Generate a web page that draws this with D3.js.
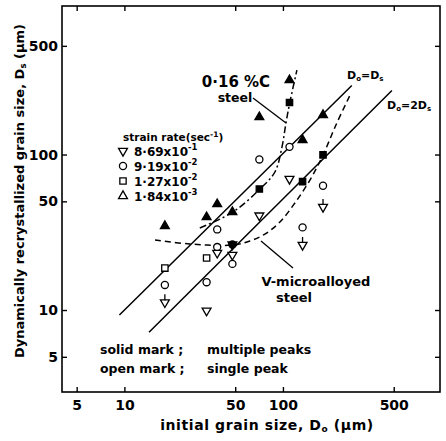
<!DOCTYPE html>
<html><head><meta charset="utf-8">
<script src="https://cdn.jsdelivr.net/npm/d3@7"></script>
<style>
body{margin:0;background:#fff}
text{font-family:"DejaVu Sans",sans-serif;font-weight:bold;fill:#000}
</style>
</head><body>
<svg id="c" width="446" height="441"></svg>
<script>
// ---------- data ----------
const xTicks = [5, 10, 50, 100, 500];
const yTicks = [5, 10, 50, 100, 500];
const rateLabels = [["8·69x10", "-1"], ["9·19x10", "-2"], ["1·27x10", "-2"], ["1·84x10", "-3"]];
// [D0, Ds, solid (1) / open (0), stem mark]
const rate869 = [[18, 11.2, 0, 1], [33, 9.9, 0, 0], [38.5, 23.3, 0, 0], [48, 22.6, 0, 0], [48, 26.4, 1, 0],
                 [71, 40.5, 0, 0], [110, 69.6, 0, 0], [133, 26.2, 0, 1], [179, 46, 0, 1]];
const rate919 = [[18, 14.5, 0], [33, 15.1, 0], [38.5, 33.0, 0], [38.5, 25.4, 0], [48, 19.8, 0], [48, 26.4, 1],
                 [71, 93, 0], [110, 112, 0], [133, 34, 0], [179, 63, 0]];
const rate127 = [[18, 18.6, 0], [33, 21.6, 0], [71, 60, 1], [110, 216, 1], [133, 67, 1], [179, 99.5, 1]];
const rate184 = [[18, 34.7, 1], [33, 39.6, 1], [38.5, 48, 1], [48, 42.7, 1], [71, 174, 1], [110, 301, 1],
                 [133, 124, 1], [179, 179.5, 1]];
const lineEq = [[9.3, 9.3], [272, 278]];          // D0 = Ds
const lineHalf = [[14.3, 7.2], [487, 258]];       // D0 = 2Ds
const curveC016 = [[29.9, 33.7], [48.4, 42.7], [71.6, 60], [89, 77.2], [98.6, 111.7], [104.5, 159.5],
                   [110.7, 217.6], [122.5, 349]];
const curveV = [[15.6, 28.2], [25.9, 26.6], [48, 26.2], [61.9, 27.8], [77, 30.8], [95.7, 36.8],
                [119, 48.8], [148, 68.5], [179, 99.3], [216, 155], [265, 241]];

// ---------- layout ----------
const svg = d3.select("#c");
const x = d3.scaleLog().domain([4.04, 979]).range([62, 440]);
const y = d3.scaleLog().domain([2.97, 902]).range([392, 6]);

svg.append("rect").attr("x", 62).attr("y", 6).attr("width", 378).attr("height", 386)
  .attr("fill", "none").attr("stroke", "#000").attr("stroke-width", 1.6);

function styleAxis(g, showLabels) {
  g.select(".domain").remove();
  g.selectAll(".tick line").attr("stroke", "#000").attr("stroke-width", 1.4);
  g.selectAll(".tick text").attr("font-size", 14).style("font-weight", "bold")
    .attr("font-family", '"DejaVu Sans",sans-serif');
  if (!showLabels) g.selectAll(".tick text").remove();
}
svg.append("g").attr("transform", "translate(0,392)")
  .call(d3.axisBottom(x).tickValues(xTicks).tickFormat(d3.format("d")).tickSizeInner(-5).tickSizeOuter(0).tickPadding(8))
  .call(g => styleAxis(g, true));
svg.append("g").attr("transform", "translate(0,6)")
  .call(d3.axisTop(x).tickValues(xTicks).tickSizeInner(-5).tickSizeOuter(0))
  .call(g => styleAxis(g, false));
svg.append("g").attr("transform", "translate(62,0)")
  .call(d3.axisLeft(y).tickValues(yTicks).tickFormat(d3.format("d")).tickSizeInner(-5).tickSizeOuter(0).tickPadding(4))
  .call(g => styleAxis(g, true));
svg.append("g").attr("transform", "translate(440,0)")
  .call(d3.axisRight(y).tickValues(yTicks).tickSizeInner(-5).tickSizeOuter(0))
  .call(g => styleAxis(g, false));

// lines
const straight = d3.line().x(d => x(d[0])).y(d => y(d[1]));
const smooth = d3.line().x(d => x(d[0])).y(d => y(d[1])).curve(d3.curveCatmullRom.alpha(0.5));
svg.append("path").attr("d", straight(lineEq)).attr("fill", "none").attr("stroke", "#000").attr("stroke-width", 1.5);
svg.append("path").attr("d", straight(lineHalf)).attr("fill", "none").attr("stroke", "#000").attr("stroke-width", 1.5);
svg.append("path").attr("d", smooth(curveC016)).attr("fill", "none").attr("stroke", "#000")
  .attr("stroke-width", 1.5).attr("stroke-dasharray", "7,3,2,3");
svg.append("path").attr("d", smooth(curveV)).attr("fill", "none").attr("stroke", "#000")
  .attr("stroke-width", 1.5).attr("stroke-dasharray", "6,4");

// markers
const symDown = d3.symbol(d3.symbolTriangle, 34);
const symUp = d3.symbol(d3.symbolTriangle, 34);
const symCircle = d3.symbol(d3.symbolCircle, 40);
const symSquare = d3.symbol(d3.symbolSquare, 40);
function drawSeries(data, sym, rot) {
  const g = svg.append("g");
  data.forEach(d => {
    const px = x(d[0]), py = y(d[1]);
    g.append("path").attr("d", sym())
      .attr("transform", `translate(${px},${py}) rotate(${rot})`)
      .attr("fill", d[2] ? "#000" : "#fff").attr("stroke", "#000").attr("stroke-width", 1.3);
    if (d[3]) {
      g.append("line").attr("x1", px).attr("x2", px).attr("y1", py - 2).attr("y2", py - 8)
        .attr("stroke", "#000").attr("stroke-width", 1.3);
    }
  });
}
drawSeries(rate919, symCircle, 0);
drawSeries(rate127, symSquare, 0);
drawSeries(rate869, symDown, 180);
drawSeries(rate184, symUp, 0);

// legend
const lt = svg.append("text").attr("x", 123).attr("y", 141).attr("font-size", 10.5);
lt.append("tspan").text("strain rate(sec");
lt.append("tspan").attr("dy", -4).attr("font-size", 7.5).text("-1");
lt.append("tspan").attr("dy", 4).text(")");
const legendSyms = [[symDown, 180], [symCircle, 0], [symSquare, 0], [symUp, 0]];
rateLabels.forEach((lab, i) => {
  const ly = 151 + i * 15;
  svg.append("path").attr("d", legendSyms[i][0]())
    .attr("transform", `translate(123,${ly}) rotate(${legendSyms[i][1]})`)
    .attr("fill", "#fff").attr("stroke", "#000").attr("stroke-width", 1.3);
  const t = svg.append("text").attr("x", 134).attr("y", ly + 5).attr("font-size", 12);
  t.append("tspan").text(lab[0]);
  t.append("tspan").attr("dy", -6).attr("font-size", 8.5).text(lab[1]);
});

// annotations
svg.append("text").attr("x", 236).attr("y", 87).attr("font-size", 15).attr("text-anchor", "middle").text("0·16 %C");
svg.append("text").attr("x", 235).attr("y", 102).attr("font-size", 12.5).attr("text-anchor", "middle").text("steel");
svg.append("line").attr("x1", 253).attr("y1", 98).attr("x2", 286).attr("y2", 123).attr("stroke", "#000").attr("stroke-width", 1.3);
svg.append("text").attr("x", 316).attr("y", 286).attr("font-size", 13).attr("text-anchor", "middle").text("V-microalloyed");
svg.append("text").attr("x", 294).attr("y", 302).attr("font-size", 13).attr("text-anchor", "middle").text("steel");
svg.append("line").attr("x1", 293).attr("y1", 268).attr("x2", 261).attr("y2", 241).attr("stroke", "#000").attr("stroke-width", 1.3);

function dLabel(xp, yp, pre) {
  const t = svg.append("text").attr("x", xp).attr("y", yp).attr("font-size", 11);
  t.append("tspan").text("D");
  t.append("tspan").attr("dy", 2).attr("font-size", 7).text("o");
  t.append("tspan").attr("dy", -2).text("=" + pre + "D");
  t.append("tspan").attr("dy", 2).attr("font-size", 7).text("s");
}
dLabel(347, 79, "");
dLabel(387, 109, "2");

// notes
svg.append("text").attr("x", 100).attr("y", 354).attr("font-size", 12.5).text("solid mark ;");
svg.append("text").attr("x", 207).attr("y", 354).attr("font-size", 12.5).text("multiple peaks");
svg.append("text").attr("x", 100).attr("y", 373).attr("font-size", 12.5).text("open mark ;");
svg.append("text").attr("x", 207).attr("y", 373).attr("font-size", 12.5).text("single peak");

// axis titles
const xt = svg.append("text").attr("x", 267).attr("y", 430).attr("font-size", 14).attr("text-anchor", "middle")
  .attr("letter-spacing", 0.6);
xt.append("tspan").text("initial grain size, D");
xt.append("tspan").attr("dy", 2).attr("font-size", 9).text("o");
xt.append("tspan").attr("dy", -2).text("  (µm)");
const yt = svg.append("text").attr("transform", "translate(24,191) rotate(-90)").attr("font-size", 13).attr("text-anchor", "middle");
yt.append("tspan").text("Dynamically recrystallized grain size, D");
yt.append("tspan").attr("dy", 2).attr("font-size", 8.5).text("s");
yt.append("tspan").attr("dy", -2).text("  (µm)");
</script>
</body></html>
